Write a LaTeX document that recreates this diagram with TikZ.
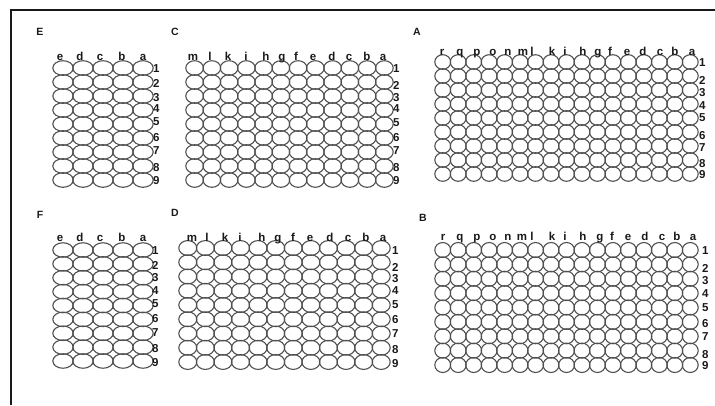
\documentclass[tikz,border=0pt]{standalone}
\usepackage{fontspec}
\setmainfont{Liberation Sans}
\usetikzlibrary{shapes.geometric}
\definecolor{ink}{RGB}{25,25,25}
\definecolor{wellc}{RGB}{80,80,80}
\tikzset{
  well/.style={ellipse, draw=wellc, line width=1.1pt, inner sep=0pt},
  collab/.style={anchor=base, inner sep=0pt, font=\fontsize{11.5}{12}\selectfont\bfseries, text=ink},
  rowlab/.style={anchor=west, inner sep=0pt, text height=8.3pt, text depth=0pt, font=\fontsize{11.5}{12}\selectfont\bfseries, text=ink},
  platelab/.style={anchor=center, inner sep=0pt, font=\fontsize{10.5}{12}\selectfont\bfseries, text=ink},
}
% name, xleft, xright, y first row, y last row, ncols
\newcommand{\drawplate}[6]{%
  \pgfmathsetmacro{\cw}{(#3-#2)/#6}%
  \pgfmathsetmacro{\rh}{(#5-#4)/8}%
  \foreach \c in {1,...,#6}{%
    \foreach \r in {1,...,9}{%
      \node[well, minimum width=\cw pt+0.4pt, minimum height=\rh pt+0.6pt] (#1-\c-\r) at ({#2+(\c-0.5)*\cw},{#4+(\r-1)*\rh}) {};
    }}}
\begin{document}
\begin{tikzpicture}[x=1pt,y=-1pt]
\useasboundingbox (0,0) rectangle (715,405);
% frame
\coordinate (f1) at (11,405);
\coordinate (f2) at (11,10);
\coordinate (f3) at (715,10);
\draw[line width=2pt, draw=ink] (f1) -- (f2) -- (f3);

% plate labels
\node[platelab] (labE) at (40,32) {E};
\node[platelab] (labC) at (175,32) {C};
\node[platelab] (labA) at (417,32) {A};
\node[platelab] (labF) at (40,215) {F};
\node[platelab] (labD) at (175,213) {D};
\node[platelab] (labB) at (423,218) {B};

% plates
\drawplate{E}{53}{153}{68}{180}{5}
\drawplate{C}{186}{393}{68}{180}{12}
\drawplate{A}{435}{698}{62}{174}{17}
\drawplate{F}{53}{153}{250}{361}{5}
\drawplate{D}{179}{390}{248}{362}{12}
\drawplate{B}{435}{698}{250}{365}{17}

% column labels
\foreach \x/\t in {60/e,80/d,100/c,122/b,143/a}
  \node[collab] (E-col-\t) at (\x,60) {\t};
\foreach \x/\t in {60/e,80/d,100/c,122/b,143/a}
  \node[collab] (F-col-\t) at (\x,241) {\t};
\foreach \x/\t in {193/m,210/l,228/k,246/i,266/h,282/g,296/f,313/e,332/d,349/c,367/b,383/a}
  \node[collab] (C-col-\t) at (\x,60) {\t};
\foreach \x/\t in {192/m,207/l,225/k,240/i,262/h,278/g,293/f,310/e,330/d,348/c,366/b,383/a}
  \node[collab] (D-col-\t) at (\x,241) {\t};
\foreach \x/\t in {442/r,460/q,477/p,493/o,508/n,523/m,532/l,552/k,565/i,583/h,598/g,610/f,627/e,643/d,660/c,675/b,692/a}
  \node[collab] (A-col-\t) at (\x,55) {\t};
\foreach \x/\t in {443/r,460/q,477/p,493/o,508/n,522/m,532/l,552/k,565/i,583/h,600/g,612/f,628/e,645/d,662/c,677/b,693/a}
  \node[collab] (B-col-\t) at (\x,240) {\t};

% row labels
\foreach \y/\t in {68/1,83/2,97/3,108/4,121/5,137/6,150/7,167/8,180/9}
  \node[rowlab] (E-row-\t) at (153,\y) {\t};
\foreach \y/\t in {68/1,85/2,97/3,108/4,122/5,137/6,150/7,167/8,180/9}
  \node[rowlab] (C-row-\t) at (393,\y) {\t};
\foreach \y/\t in {62/1,80/2,92/3,105/4,117/5,135/6,147/7,163/8,174/9}
  \node[rowlab] (A-row-\t) at (699,\y) {\t};
\foreach \y/\t in {250/1,265/2,277/3,290/4,303/5,318/6,332/7,348/8,362/9}
  \node[rowlab] (F-row-\t) at (152,\y) {\t};
\foreach \y/\t in {250/1,267/2,278/3,290/4,304/5,319/6,333/7,349/8,363/9}
  \node[rowlab] (D-row-\t) at (392,\y) {\t};
\foreach \y/\t in {250/1,268/2,280/3,293/4,307/5,323/6,336/7,354/8,365/9}
  \node[rowlab] (B-row-\t) at (702,\y) {\t};
\end{tikzpicture}
\end{document}
